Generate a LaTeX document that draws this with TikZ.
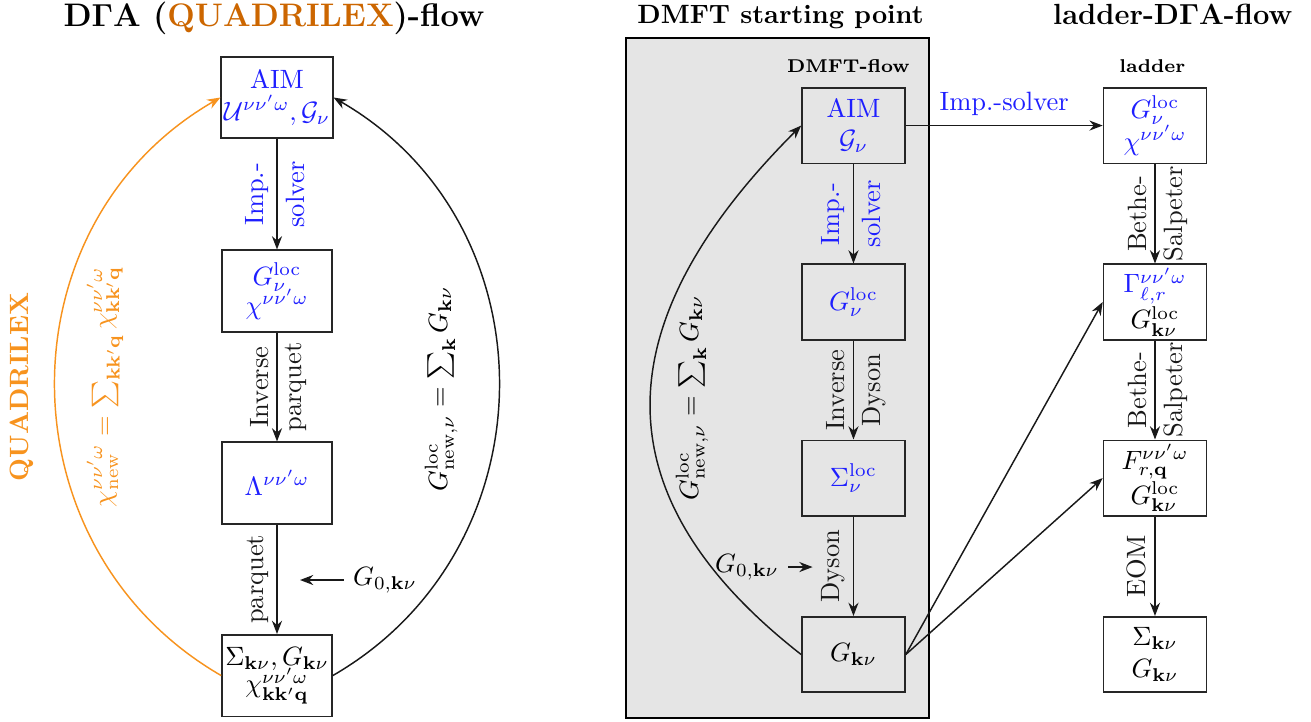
\documentclass[tikz,border=0pt]{standalone}
\usetikzlibrary{arrows.meta}
\definecolor{aimblue}{RGB}{30,30,255}
\definecolor{qorange}{RGB}{247,147,30}
\definecolor{qtitle}{RGB}{204,102,0}
\tikzset{
  box/.style={draw=black!85, line width=0.6pt, minimum width=1.366cm, minimum height=1.001cm, align=center, inner sep=1pt},
  bigbox/.style={box, minimum width=1.459cm, minimum height=1.081cm},
  flow/.style={-{Stealth[length=5pt,width=3.8pt]}, line width=0.55pt, black!90},
  lbl/.style={rotate=90, inner sep=3pt},
  title/.style={font=\bfseries, anchor=base},
  sub/.style={font=\scriptsize\bfseries}
}

\begin{document}
\begin{tikzpicture}
  \useasboundingbox (0,0) rectangle (17.384,9.561);
  \draw[line width=0.7pt, fill=gray!20] (8.301,0.040) rectangle (12.319,9.056);

  \node[title, font=\fontsize{12.3}{15}\selectfont\bfseries] (tleft) at (3.633,9.203) {D$\mathbf{\Gamma}$A (\textcolor{qtitle}{QUADRILEX})-flow};
  \node[title] (tdmft) at (10.35,9.255) {DMFT starting point};
  \node[title, font=\fontsize{11}{13}\selectfont\bfseries] (tladder) at (15.55,9.23) {ladder-D$\mathbf{\Gamma}$A-flow};
  \node[sub] (sdmft) at (11.25,8.685) {DMFT-flow};
  \node[sub] (sladder) at (15.28,8.685) {ladder};

  \node[bigbox, text=aimblue] (aim) at (3.673,8.268) {AIM\\ $\mathcal{U}^{\nu\nu'\omega},\mathcal{G}_\nu$};
  \node[bigbox, text=aimblue] (gloc) at (3.673,5.702) {$G^{\mathrm{loc}}_\nu$\\[-1pt] $\chi^{\nu\nu'\omega}$};
  \node[bigbox, text=aimblue] (lam) at (3.673,3.156) {$\Lambda^{\nu\nu'\omega}$};
  \node[bigbox] (sig) at (3.673,0.603) {$\Sigma_{\mathbf{k}\nu},G_{\mathbf{k}\nu}$\\[-1.5pt] $\chi^{\nu\nu'\omega}_{\mathbf{k}\mathbf{k}'\mathbf{q}}$};

  \draw[flow] (aim) -- node[lbl, above, text=aimblue] {Imp.-} node[lbl, below, text=aimblue] {solver} (gloc);
  \draw[flow] (gloc) -- node[lbl, above] {Inverse} node[lbl, below] {parquet} (lam);
  \draw[flow] (lam) -- node[lbl, above] {parquet} (sig);
  \node (g0l) at (5.105,1.870) {$G_{0,\mathbf{k}\nu}$};
  \coordinate (g0tip) at (3.978,1.870);
  \draw[flow] (g0l) -- (g0tip);

  \draw[flow, qorange] (sig.west) to[out=150, in=210, looseness=1.13] (aim.west);
  \draw[flow] (sig.east) to[out=30, in=-30, looseness=1.13] (aim.east);
  \node[rotate=90, font=\bfseries, text=qorange] (quad) at (0.292,4.429) {QUADRILEX};
  \node[rotate=90, text=qorange] (chinew) at (1.392,4.43) {$\chi^{\nu\nu'\omega}_{\mathrm{new}} = \sum_{\mathbf{k}\mathbf{k}'\mathbf{q}}\chi^{\nu\nu'\omega}_{\mathbf{k}\mathbf{k}'\mathbf{q}}$};
  \node[rotate=90] (gnewl) at (5.848,4.402) {$G^{\mathrm{loc}}_{\mathrm{new},\nu} = \sum_{\mathbf{k}} G_{\mathbf{k}\nu}$};

  \node[box, text=aimblue] (maim) at (11.317,7.896) {AIM\\ $\mathcal{G}_\nu$};
  \node[box, text=aimblue] (mgloc) at (11.317,5.556) {$G^{\mathrm{loc}}_\nu$};
  \node[box, text=aimblue] (msig) at (11.317,3.222) {$\Sigma^{\mathrm{loc}}_\nu$};
  \node[box] (mgk) at (11.317,0.882) {$G_{\mathbf{k}\nu}$};

  \draw[flow] (maim) -- node[lbl, above, text=aimblue] {Imp.-} node[lbl, below, text=aimblue] {solver} (mgloc);
  \draw[flow] (mgloc) -- node[lbl, above] {Inverse} node[lbl, below] {Dyson} (msig);
  \draw[flow] (msig) -- node[lbl, above] (dyson) {Dyson} (mgk);
  \node (g0m) at (9.905,2.042) {$G_{0,\mathbf{k}\nu}$};
  \draw[flow] (g0m) -- (g0m -| dyson.north);
  \draw[flow] (mgk.west) to[out=142, in=225, looseness=1.3] (maim.west);
  \node[rotate=90] (gnewm) at (9.176,4.283) {$G^{\mathrm{loc}}_{\mathrm{new},\nu} = \sum_{\mathbf{k}} G_{\mathbf{k}\nu}$};

  \node[box, text=aimblue] (r1) at (15.315,7.896) {$G^{\mathrm{loc}}_\nu$\\ $\chi^{\nu\nu'\omega}$};
  \node[box] (r2) at (15.315,5.556) {\textcolor{aimblue}{$\Gamma^{\nu\nu'\omega}_{\ell,r}$}\\ $G^{\mathrm{loc}}_{\mathbf{k}\nu}$};
  \node[box] (r3) at (15.315,3.222) {$F^{\nu\nu'\omega}_{r,\mathbf{q}}$\\ $G^{\mathrm{loc}}_{\mathbf{k}\nu}$};
  \node[box] (r4) at (15.315,0.882) {$\Sigma_{\mathbf{k}\nu}$\\ $G_{\mathbf{k}\nu}$};

  \draw[flow] (maim) -- node[above, text=aimblue] {Imp.-solver} (r1);
  \draw[flow] (r1) -- node[lbl, above] {Bethe-} node[lbl, below] {Salpeter} (r2);
  \draw[flow] (r2) -- node[lbl, above] {Bethe-} node[lbl, below] {Salpeter} (r3);
  \draw[flow] (r3) -- node[lbl, above] {EOM} (r4);
  \draw[flow] (mgk.east) -- (r2.west);
  \draw[flow] (mgk.east) -- (r3.west);
\end{tikzpicture}
\end{document}
